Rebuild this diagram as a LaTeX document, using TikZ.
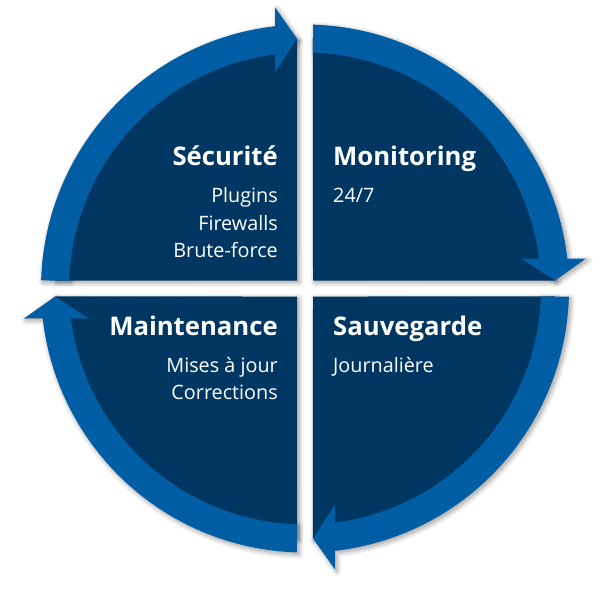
\documentclass[tikz,border=0pt]{standalone}
\usepackage{fontspec}
\setmainfont{Open Sans}
\usetikzlibrary{shadows.blur}
\definecolor{navy}{RGB}{0,55,98}
\definecolor{ringblue}{RGB}{2,94,164}
\begin{document}
\begin{tikzpicture}[x=1pt,y=1pt,
  shade/.style={blur shadow={shadow xshift=2pt,shadow yshift=-2pt,shadow blur steps=10,shadow blur radius=5pt,shadow opacity=40}},
  sector/.style={fill=navy},
  band/.style={fill=ringblue},
  title/.style={font=\fontsize{25.7}{30}\selectfont\bfseries,text=white,inner sep=0pt},
  item/.style={font=\fontsize{19.8}{24}\selectfont,text=white,inner sep=0pt}]
\useasboundingbox (-305,-301.5) rectangle (305,288.5);
% shadows
\foreach \r in {0,-90,-180,-270}{
  \begin{scope}[rotate=\r]
    \path[shade] (-8,8) -- (91.83:250) arc[start angle=91.83,end angle=178.17,radius=250] -- cycle;
    \path[shade] (178.26:264) arc[start angle=178.26,end angle=96.52,radius=264]
      -- (-30,281) -- (-8,250) -- (-30,216) -- (97.30:236)
      arc[start angle=97.30,end angle=178.06,radius=236] -- cycle;
  \end{scope}
}
% quadrants
\foreach \r in {0,-90,-180,-270}{
  \begin{scope}[rotate=\r]
    \path[sector] (-8,8) -- (91.83:250) arc[start angle=91.83,end angle=178.17,radius=250] -- cycle;
  \end{scope}
}
% arrows
\foreach \r in {0,-90,-180,-270}{
  \begin{scope}[rotate=\r]
    \path[band] (178.26:264) arc[start angle=178.26,end angle=96.52,radius=264]
      -- (-30,281) -- (-8,250) -- (-30,216) -- (97.30:236)
      arc[start angle=97.30,end angle=178.06,radius=236] -- cycle;
  \end{scope}
}
% texts
\node[title,anchor=base east] (secu) at (-27,123.5) {Sécurité};
\node[item,anchor=base east] (plug) at (-27,85.8) {Plugins};
\node[item,anchor=base east] (fire) at (-27,58.5) {Firewalls};
\node[item,anchor=base east] (brute) at (-27,31.2) {Brute-force};
\node[title,anchor=base west] (moni) at (28,123.5) {Monitoring};
\node[item,anchor=base west] (h24) at (28,85.8) {24/7};
\node[title,anchor=base east] (main) at (-27,-46.5) {Maintenance};
\node[item,anchor=base east] (maj) at (-27,-84.2) {Mises à jour};
\node[item,anchor=base east] (corr) at (-27,-110.8) {Corrections};
\node[title,anchor=base west] (sauv) at (28,-46.5) {Sauvegarde};
\node[item,anchor=base west] (jour) at (28,-84.2) {Journalière};
\end{tikzpicture}
\end{document}
